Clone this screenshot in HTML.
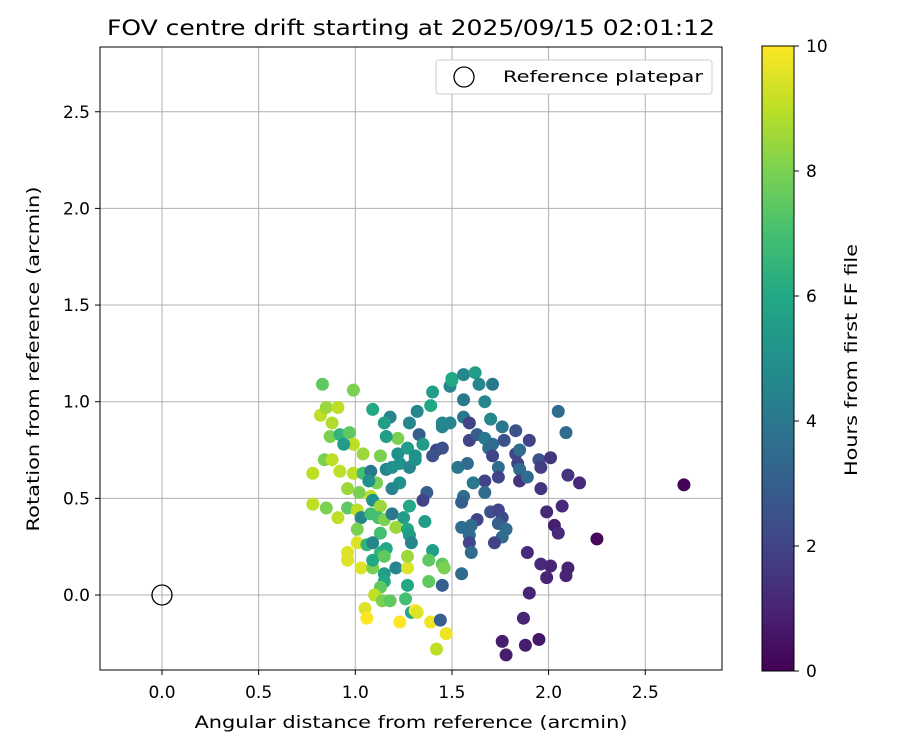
<!DOCTYPE html>
<html><head><meta charset="utf-8"><style>
body{margin:0;background:#fff;}
svg{display:block;font-family:"DejaVu Sans","Liberation Sans",sans-serif;}
</style></head><body>
<svg id="chart" width="900" height="750" viewBox="0 0 900 750" xmlns="http://www.w3.org/2000/svg">
<defs>
<linearGradient id="viridis" x1="0" y1="1" x2="0" y2="0">
<stop offset="0" stop-color="#440154"/><stop offset="0.1" stop-color="#482475"/><stop offset="0.2" stop-color="#414487"/><stop offset="0.3" stop-color="#355f8d"/><stop offset="0.4" stop-color="#2a788e"/><stop offset="0.5" stop-color="#21918c"/><stop offset="0.6" stop-color="#22a884"/><stop offset="0.7" stop-color="#44bf70"/><stop offset="0.8" stop-color="#7ad151"/><stop offset="0.9" stop-color="#bddf26"/><stop offset="1" stop-color="#fde725"/>
</linearGradient>
<clipPath id="plotclip"><rect x="100" y="47" width="622" height="623"/></clipPath>
</defs>
<text x="411" y="35" font-size="21" text-anchor="middle" textLength="608" lengthAdjust="spacingAndGlyphs">FOV centre drift starting at 2025/09/15 02:01:12</text>
<g id="grid"></g>
<g id="points" clip-path="url(#plotclip)"></g>
<rect x="100" y="47" width="622" height="623" fill="none" stroke="#000" stroke-width="1"/>
<g id="ticks"></g>
<text x="411" y="728" font-size="17" text-anchor="middle" textLength="433" lengthAdjust="spacingAndGlyphs">Angular distance from reference (arcmin)</text>
<text transform="translate(39,359) rotate(-90)" font-size="17" text-anchor="middle" textLength="345" lengthAdjust="spacingAndGlyphs">Rotation from reference (arcmin)</text>
<g>
<rect x="436" y="60" width="276" height="34" rx="3" fill="#fff" stroke="#ccc"/>
<circle cx="464" cy="77" r="10" fill="none" stroke="#000" stroke-width="1.3"/>
<text x="503" y="82" font-size="16" textLength="200" lengthAdjust="spacingAndGlyphs">Reference platepar</text>
</g>
<rect x="762" y="46" width="32" height="625" fill="url(#viridis)" stroke="#000" stroke-width="1"/>
<g id="cbticks"></g>
<text transform="translate(857,360) rotate(-90)" font-size="17" text-anchor="middle" textLength="232" lengthAdjust="spacingAndGlyphs">Hours from first FF file</text>
</svg>
<script>
const xTicks=[0.0,0.5,1.0,1.5,2.0,2.5];
const yTicks=[0.0,0.5,1.0,1.5,2.0,2.5];
const cbTicks=[0,2,4,6,8,10];
const refPoint=[0,0];
const ptX=[0.83,0.99,0.82,0.85,0.91,0.88,1.09,1.18,1.15,1.28,1.32,1.39,1.40,1.49,1.50,1.33,1.42,1.40,1.45,0.87,0.92,0.97,0.99,0.94,1.04,1.13,1.22,1.16,1.22,1.27,1.31,1.35,0.84,0.88,0.92,0.78,0.99,1.04,1.08,1.16,1.19,1.23,1.28,1.31,1.23,1.19,1.11,1.07,0.96,1.08,1.02,1.37,1.35,0.78,0.85,0.91,0.96,1.01,1.09,1.03,1.08,1.13,1.12,1.15,1.19,1.25,1.28,1.36,1.01,1.13,1.21,1.27,1.28,1.29,1.01,1.06,1.09,1.13,1.16,0.96,0.96,1.03,1.09,1.09,1.15,1.21,1.27,1.27,1.40,1.38,1.45,1.45,1.38,1.27,1.15,1.15,1.13,1.10,1.14,1.18,1.26,1.05,1.06,1.23,1.29,1.31,1.32,1.39,1.44,1.47,1.42,
1.50,1.56,1.62,1.64,1.71,1.56,1.67,2.05,2.09,1.45,1.49,1.56,1.59,1.70,1.76,1.83,1.90,1.59,1.63,1.67,1.71,1.69,1.77,1.71,1.83,1.85,1.84,1.95,2.01,1.96,1.45,1.53,1.58,1.74,1.74,1.67,1.61,1.67,1.85,1.85,1.89,1.96,2.10,2.16,1.56,1.55,1.70,1.74,1.76,1.63,1.74,1.78,1.76,1.72,1.55,1.60,1.59,1.59,1.60,1.99,2.07,2.03,2.05,2.25,1.89,1.96,2.01,1.99,2.10,2.09,1.55,1.46,1.90,1.87,1.76,1.78,1.88,1.95,2.70];
const ptY=[1.09,1.06,0.93,0.97,0.97,0.89,0.96,0.92,0.89,0.89,0.95,0.98,1.05,1.08,1.11,0.83,0.75,0.72,0.89,0.82,0.83,0.84,0.78,0.78,0.73,0.72,0.81,0.82,0.73,0.76,0.72,0.78,0.70,0.70,0.64,0.63,0.63,0.63,0.64,0.65,0.66,0.68,0.66,0.70,0.58,0.55,0.58,0.59,0.55,0.51,0.53,0.53,0.49,0.47,0.45,0.40,0.45,0.44,0.49,0.40,0.42,0.46,0.40,0.39,0.42,0.40,0.46,0.38,0.34,0.32,0.35,0.34,0.31,0.27,0.27,0.26,0.27,0.22,0.24,0.22,0.18,0.14,0.14,0.18,0.20,0.14,0.14,0.20,0.23,0.18,0.16,0.05,0.07,0.05,0.11,0.07,0.04,0.00,-0.03,-0.03,-0.02,-0.07,-0.12,-0.14,-0.09,-0.08,-0.09,-0.14,-0.13,-0.20,-0.28,
1.12,1.14,1.15,1.09,1.09,1.01,1.00,0.95,0.84,0.87,0.89,0.92,0.89,0.91,0.87,0.85,0.80,0.80,0.83,0.81,0.78,0.76,0.80,0.72,0.73,0.75,0.68,0.70,0.71,0.66,0.76,0.66,0.68,0.66,0.61,0.59,0.58,0.53,0.65,0.59,0.61,0.55,0.62,0.58,0.51,0.48,0.43,0.44,0.40,0.39,0.37,0.34,0.30,0.27,0.35,0.36,0.31,0.27,0.22,0.43,0.46,0.36,0.32,0.29,0.22,0.16,0.15,0.09,0.14,0.10,0.11,0.14,0.01,-0.12,-0.24,-0.31,-0.26,-0.23,0.57];
const ptHours=[7.5,8,9,8.5,9,8.8,6,4.5,5.5,4.5,4.5,6,5.5,4.5,6,3,2,2.5,4.5,8,6.5,7.5,9,5.5,8.5,8,8,5.5,5,5.5,5,5.5,8,9,9,9,9,7,4,4.5,5,5,4.5,5,5,4.5,8,5,8.5,9,8,3,2,9,8,9,7.5,9,5,4.5,7,8.5,7,8,4,5.5,6,5.5,8,7,8.5,6,5.5,4.5,9.5,6.5,4.5,6.5,6,9.5,9.5,9.5,8,6,7.5,4.5,9.5,8.5,5.5,7.5,7.5,3,7.5,6,5.5,6,7.5,9,8,7.5,7,9.5,10,10,6,10,9.5,9.8,3,9.8,9,
6,4.5,5.5,4.5,4,4,4.5,3.5,3.5,4.5,4.5,4,2,4.5,4,2.5,2,2,3,4,3.5,3.5,2.5,2,2,3.5,2,2.5,1.5,1.8,2.5,4,3.5,3.5,2,2,4,3.5,3.5,1.5,3.5,1.5,1.5,1.2,3.5,3,2.5,2,2.2,2,3,3.5,3.5,2,3.5,3.5,3.5,2,3.5,1.2,1.2,0.8,1.2,0.2,1.2,1.2,1,1,1,1,3.5,8,1,1,0.8,0.8,0.8,0.6,0.1];

const NS='http://www.w3.org/2000/svg';
const X0=100,X1=722,Y0=670,Y1=47;
const xMin=-0.3207,xMax=2.897,yMin=-0.388,yMax=2.835;
const cMin=0,cMax=10,cbTop=46,cbBot=671;
function sx(v){return X0+(v-xMin)/(xMax-xMin)*(X1-X0);}
function sy(v){return Y0-(v-yMin)/(yMax-yMin)*(Y0-Y1);}
function sc(v){return cbBot-(v-cMin)/(cMax-cMin)*(cbBot-cbTop);}
const vir=['#440154','#482475','#414487','#355f8d','#2a788e','#21918c','#22a884','#44bf70','#7ad151','#bddf26','#fde725'];
function hex(c){return [parseInt(c.substr(1,2),16),parseInt(c.substr(3,2),16),parseInt(c.substr(5,2),16)];}
function cmap(v){let t=Math.max(0,Math.min(1,(v-cMin)/(cMax-cMin)))*10;let i=Math.min(9,Math.floor(t));let f=t-i;let a=hex(vir[i]),b=hex(vir[i+1]);return 'rgb('+a.map((x,k)=>Math.round(x+(b[k]-x)*f)).join(',')+')';}
function mk(tag,attrs,parent){const e=document.createElementNS(NS,tag);for(const k in attrs)e.setAttribute(k,attrs[k]);parent.appendChild(e);return e;}
const grid=document.getElementById('grid'),ticks=document.getElementById('ticks');
xTicks.forEach(v=>{
  const g=mk('line',{x1:sx(v),x2:sx(v),y1:Y1,y2:Y0,stroke:'#b0b0b0','stroke-width':1},grid);
  
  
  const t=mk('line',{x1:sx(v),x2:sx(v),y1:Y0,y2:Y0+5,stroke:'#000'},ticks);
  
  
  const l=mk('text',{x:sx(v),y:Y0+28,'font-size':17,'text-anchor':'middle'},ticks);
  
  
  l.textContent=v.toFixed(1);
});
yTicks.forEach(v=>{
  const g=mk('line',{x1:X0,x2:X1,y1:sy(v),y2:sy(v),stroke:'#b0b0b0','stroke-width':1},grid);
  
  
  const t=mk('line',{x1:X0-5,x2:X0,y1:sy(v),y2:sy(v),stroke:'#000'},ticks);
  
  
  const l=mk('text',{x:X0-10,y:sy(v)+6,'font-size':17,'text-anchor':'end'},ticks);
  
  
  l.textContent=v.toFixed(1);
});
const cbt=document.getElementById('cbticks');
cbTicks.forEach(v=>{
  const t=mk('line',{x1:794,x2:799,y1:sc(v),y2:sc(v),stroke:'#000'},cbt);
  
  
  const l=mk('text',{x:806,y:sc(v)+6,'font-size':17},cbt);
  
  
  l.textContent=String(v);
});
const pts=document.getElementById('points');
for(let i=0;i<ptX.length;i++){
  const c=mk('circle',{cx:sx(ptX[i]),cy:sy(ptY[i]),r:6.5,fill:cmap(ptHours[i])},pts);
  
  
}
const ref=mk('circle',{cx:sx(refPoint[0]),cy:sy(refPoint[1]),r:10,fill:'none',stroke:'#000','stroke-width':1.3},pts);


</script>
</body></html>
